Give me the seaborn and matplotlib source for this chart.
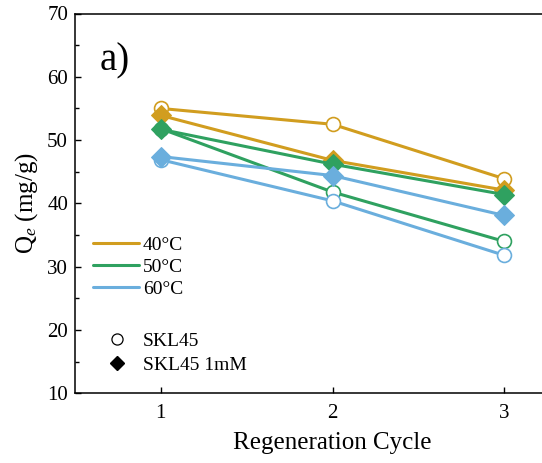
import matplotlib
matplotlib.use("Agg")
import matplotlib.pyplot as plt
from matplotlib.lines import Line2D
import seaborn as sns
import pandas as pd

cycles = [1, 2, 3]
temps = ["40°C", "50°C", "60°C"]
skl45 = {
    "40°C": [55.0, 52.5, 43.9],
    "50°C": [51.8, 41.8, 34.0],
    "60°C": [46.9, 40.4, 31.8],
}
skl45_1mm = {
    "40°C": [53.9, 46.8, 42.1],
    "50°C": [51.7, 46.2, 41.4],
    "60°C": [47.4, 44.4, 38.1],
}
colors = {"40°C": "#D19D1F", "50°C": "#2FA160", "60°C": "#6AAEDD"}

sns.set_theme(style="ticks")
plt.rcParams["font.family"] = ["Liberation Serif", "DejaVu Serif"]
plt.rcParams["mathtext.fontset"] = "custom"
plt.rcParams["mathtext.rm"] = "Liberation Serif"
plt.rcParams["mathtext.it"] = "Liberation Serif:italic"
for k in ["text.color", "axes.labelcolor", "xtick.color", "ytick.color", "axes.edgecolor"]:
    plt.rcParams[k] = "black"

fig = plt.figure(figsize=(5.42, 4.63), dpi=100)
ax = fig.add_axes([75 / 542, (463 - 393.3) / 463, 515 / 542, 379.8 / 463])

for t in temps:
    df = pd.DataFrame({"cycle": cycles, "Qe": skl45[t]})
    sns.lineplot(data=df, x="cycle", y="Qe", ax=ax, color=colors[t], lw=2.2,
                 marker="o", markersize=10, markerfacecolor="white",
                 markeredgecolor=colors[t], markeredgewidth=1.2, zorder=3)
for t in temps:
    df = pd.DataFrame({"cycle": cycles, "Qe": skl45_1mm[t]})
    sns.lineplot(data=df, x="cycle", y="Qe", ax=ax, color=colors[t], lw=2.2,
                 marker="D", markersize=10.5, markerfacecolor=colors[t],
                 markeredgecolor=colors[t], zorder=4)

ax.set_xlim(0.5, 3.5)
ax.set_ylim(10, 70)
ax.set_xticks([1, 2, 3])
ax.set_yticks([10, 20, 30, 40, 50, 60, 70])
ax.set_yticks([15, 25, 35, 45, 55, 65], minor=True)
ax.tick_params(axis="both", which="major", direction="in", length=4.5, width=1.0,
               labelsize=15, colors="black")
ax.tick_params(axis="y", which="major", pad=5)
ax.tick_params(axis="x", which="major", pad=8)
ax.tick_params(axis="y", which="minor", direction="in", length=3, width=1.0)
for s in ax.spines.values():
    s.set_linewidth(1.1)
    s.set_color("black")

ax.set_xlabel("Regeneration Cycle", fontsize=18, labelpad=6)
ax.set_ylabel("Q$_{e}$ (mg/g)", fontsize=18, labelpad=5)
ax.text(0.048, 0.875, "a)", transform=ax.transAxes, fontsize=28, va="center", ha="left")

h1 = [Line2D([], [], color=colors[t], lw=2.2) for t in temps]
leg1 = ax.legend(h1, temps, loc="upper left", bbox_to_anchor=(93 / 542, 1 - 236 / 463),
                 bbox_transform=fig.transFigure, frameon=False, fontsize=14,
                 borderpad=0, borderaxespad=0, handlelength=2.37, handletextpad=0.2,
                 labelspacing=0.24)
ax.add_artist(leg1)
h2 = [Line2D([], [], ls="none", marker="o", markersize=8, markerfacecolor="white",
             markeredgecolor="black", markeredgewidth=0.9),
      Line2D([], [], ls="none", marker="D", markersize=7, markerfacecolor="black",
             markeredgecolor="black")]
ax.legend(h2, ["SKL45", "SKL45 1mM"], loc="upper left", bbox_to_anchor=(107 / 542, 1 - 332.5 / 463),
          bbox_transform=fig.transFigure, frameon=False, fontsize=14,
          borderpad=0, borderaxespad=0, handlelength=1.0, handletextpad=0.86,
          labelspacing=0.3)

fig.savefig("out.png", dpi=100)
